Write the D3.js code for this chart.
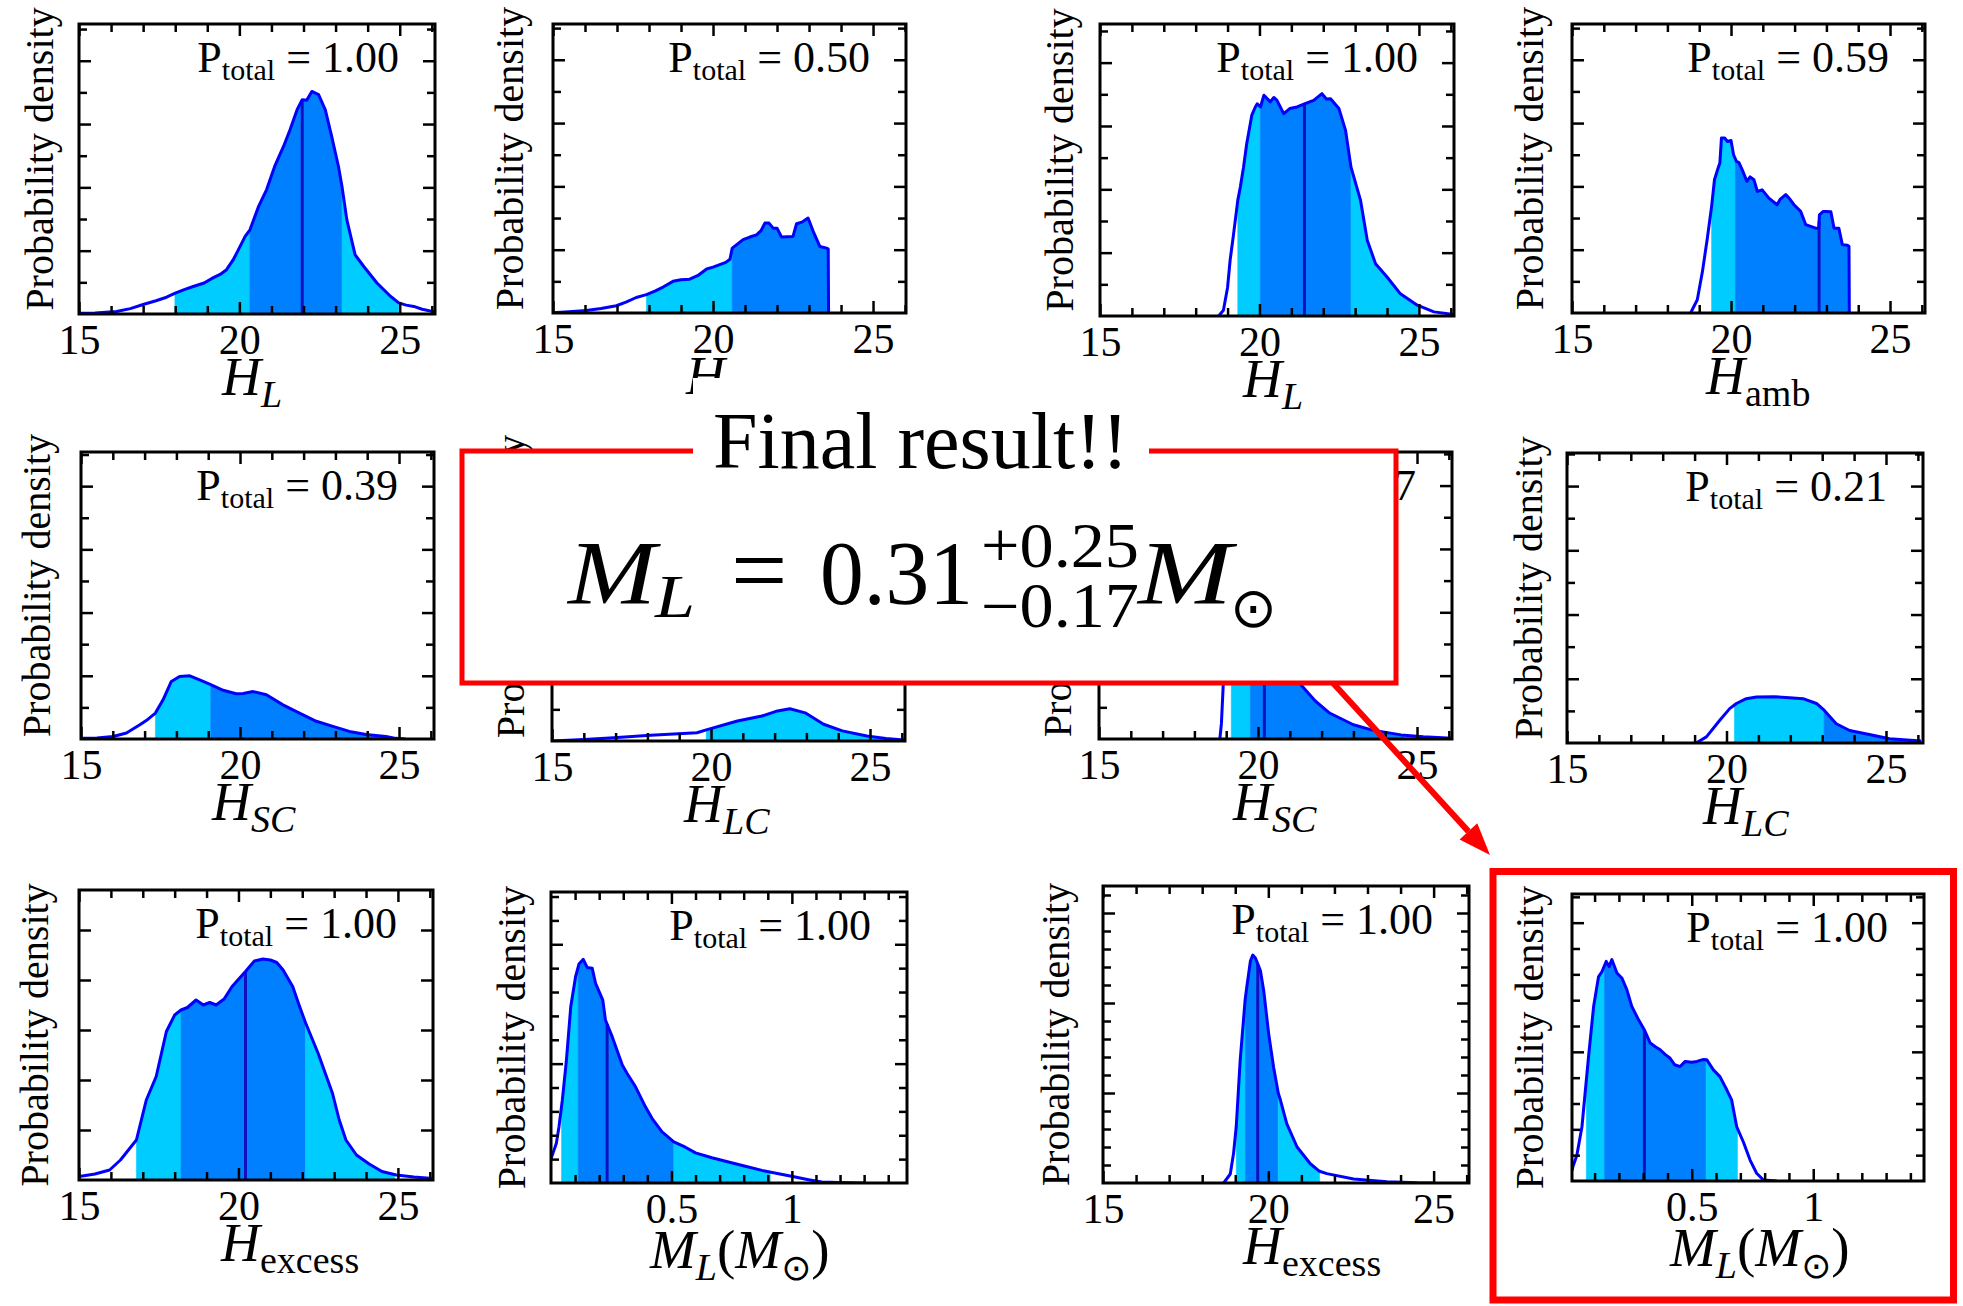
<!DOCTYPE html>
<html><head><meta charset="utf-8">
<script src="https://cdn.jsdelivr.net/npm/d3@7"></script>
<style>
html,body{margin:0;padding:0;background:#fff;}
svg{display:block;}
</style></head><body>
<svg id="c" width="1963" height="1306"></svg>
<script>
// ---------------- DATA ----------------
const xTickLabelsH = ["15","20","25"];
const xTickLabelsM = ["0.5","1"];
// P_total per panel (panel 6 value is fully hidden behind the result box in the reference)
const pTotal = ["1.00","0.50","1.00","0.59","0.39",null,"0.17","0.21","1.00","1.00","1.00","1.00"];
const axisNames = [["H","L",1],["H","amb",0],["H","L",1],["H","amb",0],["H","SC",1],["H","LC",1],["H","SC",1],["H","LC",1],["H","excess",0],["M","L",1],["H","excess",0],["M","L",1]];
const medians = [21.96, null, 21.41, 22.77, null, null, 20.2, null, 20.22, 0.233, 19.68, 0.305];

const dens_HL_A = [[15.0,0.02],[15.5,0.03],[16.17,0.08],[16.6,0.17],[17.0,0.3],[17.4,0.42],[17.73,0.53],[18.0,0.66],[18.3,0.78],[18.56,0.87],[18.9,0.98],[19.19,1.15],[19.4,1.25],[19.6,1.4],[19.8,1.7],[19.92,1.93],[20.18,2.45],[20.33,2.66],[20.6,3.4],[20.85,3.93],[21.1,4.66],[21.38,5.3],[21.58,5.82],[21.8,6.45],[21.96,6.77],[22.1,6.75],[22.26,7.03],[22.47,6.93],[22.68,6.45],[22.88,5.6],[23.09,4.66],[23.2,4.03],[23.35,2.98],[23.61,1.87],[23.88,1.5],[24.29,0.98],[24.71,0.56],[24.97,0.35],[25.2,0.28],[25.44,0.24],[25.7,0.15],[26.1,0.06]];
const dens_Hamb_A = [[15.0,0.01],[15.5,0.04],[16.04,0.08],[16.5,0.14],[16.98,0.23],[17.3,0.35],[17.6,0.49],[17.92,0.58],[18.2,0.7],[18.44,0.82],[18.75,1.0],[19.0,1.05],[19.27,1.07],[19.55,1.2],[19.8,1.39],[20.0,1.45],[20.21,1.53],[20.4,1.6],[20.53,1.7],[20.6,2.05],[20.94,2.32],[21.15,2.4],[21.36,2.47],[21.5,2.6],[21.62,2.84],[21.75,2.84],[21.88,2.68],[22.0,2.68],[22.14,2.4],[22.5,2.42],[22.61,2.82],[22.8,2.88],[22.97,3.0],[23.13,2.58],[23.34,2.1],[23.55,2.05],[23.6,2.02],[23.61,0]];
const dens_HL_B = [[18.72,0],[18.87,0.18],[19.0,0.9],[19.08,1.76],[19.19,2.6],[19.32,3.65],[19.4,4.07],[19.5,4.7],[19.6,5.44],[19.76,6.34],[19.87,6.6],[19.93,6.7],[20.03,6.6],[20.14,6.97],[20.34,6.76],[20.45,6.9],[20.55,6.81],[20.76,6.39],[20.95,6.55],[21.18,6.6],[21.41,6.7],[21.55,6.75],[21.7,6.81],[21.96,7.02],[22.1,6.85],[22.23,6.86],[22.49,6.55],[22.7,5.86],[22.87,4.7],[23.17,3.65],[23.38,2.39],[23.64,1.65],[24.0,1.23],[24.42,0.7],[24.95,0.34],[25.47,0.13],[26.1,0.05]];
const dens_Hamb_B = [[18.73,0],[18.94,0.42],[19.1,1.3],[19.25,2.32],[19.39,3.37],[19.48,4.21],[19.6,4.6],[19.65,4.74],[19.7,5.53],[19.8,5.53],[19.88,5.42],[20.0,5.45],[20.08,5.0],[20.17,4.79],[20.25,4.75],[20.35,4.53],[20.5,4.16],[20.6,4.3],[20.72,4.21],[20.83,3.84],[20.98,3.89],[21.19,3.63],[21.45,3.42],[21.55,3.6],[21.72,3.74],[21.85,3.6],[21.98,3.42],[22.19,3.21],[22.35,2.79],[22.66,2.68],[22.76,2.68],[22.78,3.1],[22.9,3.21],[22.98,3.21],[23.14,3.2],[23.24,2.68],[23.39,2.68],[23.5,2.16],[23.66,2.14],[23.71,2.1],[23.72,0]];
const dens_HSC_A = [[15.0,0.02],[15.5,0.03],[16.01,0.08],[16.43,0.19],[16.85,0.45],[17.1,0.62],[17.34,0.82],[17.58,1.24],[17.84,1.82],[18.1,1.98],[18.42,2.0],[18.73,1.87],[19.08,1.72],[19.47,1.54],[19.88,1.43],[20.1,1.44],[20.41,1.5],[20.83,1.4],[21.35,1.08],[21.87,0.82],[22.4,0.56],[22.92,0.4],[23.44,0.24],[23.96,0.14],[24.59,0.08],[24.9,0.02],[25.2,0]];
const dens_HLC_A = [[15.0,0],[16.0,0.05],[16.94,0.1],[18.1,0.18],[19.56,0.26],[19.85,0.35],[20.83,0.63],[21.6,0.79],[22.09,0.95],[22.48,1.02],[22.96,0.89],[23.54,0.53],[24.13,0.32],[24.9,0.16],[25.5,0.08],[26.07,0.03]];
const dens_HSC_B = [[18.8,0],[18.85,0.5],[18.92,2.0],[19.0,4.0],[19.15,6.0],[19.3,7.8],[19.5,8.6],[19.7,8.4],[20.0,7.2],[20.4,5.3],[20.8,3.3],[21.1,2.3],[21.3,1.77],[21.8,1.2],[22.25,0.82],[23.0,0.45],[23.6,0.28],[24.5,0.13],[25.2,0.07],[26.1,0.02]];
const dens_HLC_B = [[19.05,0],[19.37,0.19],[19.79,0.71],[20.1,1.07],[20.31,1.23],[20.62,1.38],[20.94,1.43],[21.5,1.44],[21.98,1.41],[22.4,1.38],[22.82,1.23],[23.06,1.02],[23.44,0.6],[23.86,0.39],[24.59,0.24],[25.11,0.13],[26.1,0.06]];
const dens_Hex_A = [[15.0,0.07],[15.5,0.12],[15.96,0.2],[16.3,0.4],[16.8,0.8],[17.11,1.6],[17.42,2.07],[17.74,2.97],[18.0,3.3],[18.2,3.4],[18.4,3.45],[18.67,3.6],[18.9,3.5],[19.1,3.55],[19.3,3.5],[19.55,3.62],[19.8,3.87],[20.22,4.17],[20.5,4.38],[20.77,4.42],[21.0,4.4],[21.2,4.35],[21.4,4.2],[21.7,3.87],[21.9,3.5],[22.1,3.15],[22.5,2.53],[22.95,1.73],[23.16,1.2],[23.37,0.8],[23.7,0.5],[24.1,0.32],[24.5,0.17],[24.95,0.1],[25.5,0.06],[26.1,0.03]];
const dens_ML_A = [[0,1.02],[0.022,1.65],[0.033,2.35],[0.047,3.47],[0.064,5.15],[0.082,7.38],[0.102,8.64],[0.116,9.17],[0.134,9.37],[0.15,9.03],[0.171,9.0],[0.185,8.36],[0.215,7.66],[0.226,6.83],[0.254,6.13],[0.296,4.94],[0.316,4.59],[0.351,4.03],[0.392,3.19],[0.42,2.7],[0.461,2.14],[0.51,1.72],[0.558,1.5],[0.6,1.26],[0.668,1.06],[0.737,0.88],[0.807,0.7],[0.876,0.53],[0.945,0.39],[1.014,0.25],[1.069,0.14],[1.124,0.04],[1.193,0.02],[1.3,0]];
const dens_Hex_B = [[18.65,0],[18.85,0.5],[18.95,1.66],[19.03,3.14],[19.15,6.84],[19.3,10.2],[19.35,10.9],[19.46,12.35],[19.53,12.66],[19.61,12.5],[19.76,11.8],[19.86,10.7],[20.01,8.3],[20.16,6.43],[20.3,5.0],[20.37,4.58],[20.56,3.29],[20.87,2.0],[21.27,1.07],[21.55,0.65],[21.77,0.52],[22.58,0.22],[23.59,0.07],[24.5,0.01],[25.0,0]];
const dens_ML_B = [[0.007,0.4],[0.011,0.56],[0.027,1.0],[0.048,2.1],[0.06,3.3],[0.075,4.8],[0.096,6.76],[0.116,7.9],[0.13,8.1],[0.148,8.5],[0.16,8.3],[0.171,8.57],[0.192,8.05],[0.212,7.86],[0.233,7.4],[0.253,6.76],[0.281,6.24],[0.305,5.85],[0.329,5.34],[0.35,5.2],[0.37,5.08],[0.39,4.9],[0.411,4.75],[0.43,4.5],[0.452,4.43],[0.473,4.63],[0.5,4.6],[0.521,4.63],[0.545,4.7],[0.562,4.69],[0.589,4.3],[0.616,4.04],[0.644,3.53],[0.664,3.14],[0.685,2.1],[0.712,1.52],[0.74,0.81],[0.767,0.3],[0.795,0.04],[0.85,0]];

// credible bands: [from, to, level]
const bands_HL_A = [[17.99,20.33,95],[20.33,23.2,68],[23.2,24.97,95]];
const bands_Hamb_A = [[17.92,20.6,95],[20.6,23.61,68]];
const bands_HL_B = [[19.32,20.03,95],[20.03,22.87,68],[22.87,25.0,95]];
const bands_Hamb_B = [[19.39,20.14,95],[20.14,23.72,68]];
const bands_HSC_A = [[17.34,19.08,95],[19.08,24.9,68]];
const bands_HLC_A = [[19.85,25.5,95]];
const bands_HSC_B = [[19.16,19.76,95],[19.76,24.6,68],[24.6,25.6,95]];
const bands_HLC_B = [[20.25,23.06,95],[23.06,26.1,68]];
const bands_Hex_A = [[16.8,18.2,95],[18.2,22.1,68],[22.1,24.9,95]];
const bands_ML_A = [[0.044,0.113,95],[0.113,0.51,68],[0.51,0.91,95]];
const bands_Hex_B = [[19.03,19.31,95],[19.31,20.3,68],[20.3,21.55,95]];
const bands_ML_B = [[0.066,0.141,95],[0.141,0.559,68],[0.559,0.688,95]];

// ---------------- LAYOUT ----------------
const panels = [
 {box:[79,24,435,314],    xd:[15,26.1],   ytop:9.16,  yEvery:2, dens:dens_HL_A,   bands:bands_HL_A,   ylOff:-10, ylX:-26, xlOff:143},
 {box:[553,24,906,313],   xd:[15,26.03],  ytop:9.13,  yEvery:2, dens:dens_Hamb_A, bands:bands_Hamb_A, ylOff:-10, ylX:-30, xlOff:133},
 {box:[1100,24,1454,316], xd:[15,26.1],   ytop:9.22,  yEvery:2, dens:dens_HL_B,   bands:bands_HL_B,   ylOff:-10, ylX:-27, xlOff:143},
 {box:[1572,24,1925,313], xd:[15,26.1],   ytop:9.13,  yEvery:2, dens:dens_Hamb_B, bands:bands_Hamb_B, ylOff:-10, ylX:-29, xlOff:134},
 {box:[81,452,434,739],   xd:[15,26.1],   ytop:9.08,  yEvery:2, dens:dens_HSC_A,  bands:bands_HSC_A,  ylOff:-10, ylX:-31, xlOff:131},
 {box:[552,452,905,741],  xd:[15,26.1],   ytop:9.13,  yEvery:2, dens:dens_HLC_A,  bands:bands_HLC_A,  ylOff:-10, ylX:-28, xlOff:132},
 {box:[1099,452,1452,739],xd:[15,26.1],   ytop:9.06,  yEvery:2, dens:dens_HSC_B,  bands:bands_HSC_B,  ylOff:-10, ylX:-28, xlOff:134},
 {box:[1567,453,1923,743],xd:[15,26.16],  ytop:9.03,  yEvery:2, dens:dens_HLC_B,  bands:bands_HLC_B,  ylOff:-10, ylX:-25, xlOff:136},
 {box:[79,890,433,1180],  xd:[15,26.1],   ytop:5.8,   yEvery:1, dens:dens_Hex_A,  bands:bands_Hex_A,  ylOff:0, ylX:-31, xlOff:142},
 {box:[551,892,907,1183], xd:[0,1.478],   ytop:12.19, yEvery:5, dens:dens_ML_A,   bands:bands_ML_A,   ylOff:0, ylX:-26, xlOff:99},
 {box:[1103,886,1469,1183],xd:[15,26.07], ytop:16.5,  yEvery:5, dens:dens_Hex_B,  bands:bands_Hex_B,  ylOff:0, ylX:-34, xlOff:140},
 {box:[1572,894,1924,1181],xd:[0.007,1.456],ytop:11.11,yEvery:5, dens:dens_ML_B,   bands:bands_ML_B,   ylOff:0, ylX:-29, xlOff:98}
];

const FONT = '"Liberation Serif","Times New Roman",Times,serif';
const C68 = '#0080FF', C95 = '#00CCFF', CLINE = '#0000FF', CMED = '#1010C0';
const svg = d3.select('#c');

function interpAt(data, v){
  for(let i=0;i<data.length-1;i++){
    const [x0,y0]=data[i],[x1,y1]=data[i+1];
    if(v>=x0 && v<=x1){ if(x1===x0) return y1; return y0+(y1-y0)*(v-x0)/(x1-x0); }
  }
  return 0;
}
function clipSeg(data,a,b){
  const pts=[[a,interpAt(data,a)]];
  data.forEach(d=>{ if(d[0]>a && d[0]<b) pts.push(d); });
  pts.push([b,interpAt(data,b)]);
  return pts;
}

panels.forEach((p,i)=>{
  const [L,T,R,B]=p.box;
  const isM = axisNames[i][0]==='M';
  const x=d3.scaleLinear().domain(p.xd).range([L,R]);
  const y=d3.scaleLinear().domain([0,p.ytop]).range([B,T]);
  const g=svg.append('g');
  const cid='clip'+i;
  g.append('clipPath').attr('id',cid).append('rect').attr('x',L).attr('y',T).attr('width',R-L).attr('height',B-T);
  const inner=g.append('g').attr('clip-path',`url(#${cid})`);
  const area=d3.area().x(d=>x(d[0])).y0(y(0)).y1(d=>y(d[1]));
  p.bands.forEach(([a,b,lvl])=>{
    inner.append('path').datum(clipSeg(p.dens,a,b)).attr('d',area)
      .attr('fill', lvl===68?C68:C95).attr('stroke', lvl===68?C68:C95).attr('stroke-width',0.6);
  });
  if(medians[i]!=null){
    const m=medians[i];
    inner.append('line').attr('x1',x(m)).attr('x2',x(m)).attr('y1',y(0)).attr('y2',y(interpAt(p.dens,m)))
      .attr('stroke',CMED).attr('stroke-width',3);
  }
  inner.append('path').datum(p.dens)
    .attr('d',d3.line().x(d=>x(d[0])).y(d=>y(d[1])))
    .attr('fill','none').attr('stroke',CLINE).attr('stroke-width',3).attr('stroke-linejoin','round');

  // ticks
  const xMinorAll = isM ? d3.range(1,15).map(k=>k/10) : d3.range(15,27);
  const xMajor = isM ? [0.5,1] : [15,20,25];
  const xMinor = xMinorAll.filter(v=>!xMajor.some(m=>Math.abs(m-v)<1e-9) && v<=p.xd[1]);
  const xLabs = isM ? xTickLabelsM : xTickLabelsH;
  const yAll = d3.range(1, Math.floor(p.ytop+1e-9)+1);
  const yMajor = yAll.filter(v=>v%p.yEvery===0);
  const yMinor = yAll.filter(v=>v%p.yEvery!==0);

  function ax(gen, scale, vals, size, tx, ty, fmt){
    const a=gen(scale).tickValues(vals).tickSize(size).tickSizeOuter(0).tickPadding(10)
      .tickFormat(fmt || (()=> ''));
    const gg=g.append('g').attr('transform',`translate(${tx},${ty})`).call(a);
    gg.select('.domain').remove();
    gg.selectAll('line').attr('stroke','#000').attr('stroke-width',2.5);
    gg.selectAll('text').attr('font-size',42).attr('font-family',FONT).attr('fill','#000');
    if(!fmt) gg.selectAll('text').remove();
    return gg;
  }
  ax(d3.axisBottom,x,xMajor,-12,0,B,(d,k)=>xLabs[k]);
  ax(d3.axisBottom,x,xMinor,-8,0,B);
  ax(d3.axisTop,x,xMajor,-12,0,T);
  ax(d3.axisTop,x,xMinor,-8,0,T);
  ax(d3.axisLeft,y,yMajor,-12,L,0);
  ax(d3.axisLeft,y,yMinor,-8,L,0);
  ax(d3.axisRight,y,yMajor,-12,R,0);
  ax(d3.axisRight,y,yMinor,-8,R,0);

  g.append('rect').attr('x',L).attr('y',T).attr('width',R-L).attr('height',B-T)
    .attr('fill','none').attr('stroke','#000').attr('stroke-width',3);

  // y label
  g.append('text').attr('transform',`translate(${L+p.ylX},${(T+B)/2+p.ylOff}) rotate(-90)`)
    .attr('text-anchor','middle').attr('font-family',FONT).attr('font-size',40).text('Probability density');

  // P_total
  if(pTotal[i]!=null){
    const pt=g.append('text').attr('x',R-36).attr('y',T+48).attr('text-anchor','end')
      .attr('font-family',FONT).style('white-space','pre');
    pt.append('tspan').attr('font-size',44).text('P');
    pt.append('tspan').attr('font-size',30).attr('dy',8).text('total');
    pt.append('tspan').attr('font-size',44).attr('dy',-8).text(' = '+pTotal[i]);
  }

  // x label
  const [mainSym, sub, subIt] = axisNames[i];
  const xl=g.append('text').attr('x',L+p.xlOff).attr('y',B+(isM?85:81)).attr('font-family',FONT);
  xl.append('tspan').attr('font-size',isM?55:54).attr('font-style','italic').text(mainSym);
  xl.append('tspan').attr('font-size',38).attr('font-style',subIt?'italic':'normal').attr('dy',12).text(sub);
  if(isM){
    xl.append('tspan').attr('font-size',55).attr('dy',-12).text('(');
    xl.append('tspan').attr('font-size',55).attr('font-style','italic').text('M');
    xl.append('tspan').attr('font-size',36).attr('dy',12).attr('font-family','"DejaVu Sans",sans-serif').text('\u2299');
    xl.append('tspan').attr('font-size',55).attr('dy',-12).text(')');
  }
});

// ---------------- OVERLAY ----------------
const ov=svg.append('g');
ov.append('rect').attr('x',462).attr('y',451).attr('width',934).attr('height',232)
  .attr('fill','#fff').attr('stroke','#FF0000').attr('stroke-width',5);
ov.append('rect').attr('x',693).attr('y',378).attr('width',456).attr('height',80).attr('fill','#fff');
ov.append('text').attr('x',713).attr('y',468).attr('font-family',FONT).attr('font-size',80).text('Final result!!');

const fm=ov.append('g').attr('font-family',FONT);
fm.append('text').attr('x',568).attr('y',604).attr('font-size',90).attr('font-style','italic')
  .attr('textLength',88).attr('lengthAdjust','spacingAndGlyphs').text('M');
fm.append('text').attr('x',655).attr('y',617).attr('font-size',62).attr('font-style','italic')
  .attr('textLength',40).attr('lengthAdjust','spacingAndGlyphs').text('L');
fm.append('text').attr('x',731).attr('y',604).attr('font-size',100).text('=');
fm.append('text').attr('x',820).attr('y',604).attr('font-size',90).attr('textLength',153).attr('lengthAdjust','spacingAndGlyphs').text('0.31');
fm.append('text').attr('x',981).attr('y',567).attr('font-size',63).attr('textLength',158).attr('lengthAdjust','spacingAndGlyphs').text('+0.25');
fm.append('text').attr('x',981).attr('y',627).attr('font-size',63).attr('textLength',158).attr('lengthAdjust','spacingAndGlyphs').text('\u22120.17');
fm.append('text').attr('x',1138).attr('y',604).attr('font-size',90).attr('font-style','italic')
  .attr('textLength',94).attr('lengthAdjust','spacingAndGlyphs').text('M');
fm.append('text').attr('x',1230).attr('y',627).attr('font-size',56).attr('font-family','"DejaVu Sans",sans-serif').text('\u2299');

// arrow
const ax0=1333, ay0=683, ax1=1490, ay1=855;
const len=Math.hypot(ax1-ax0,ay1-ay0), ux=(ax1-ax0)/len, uy=(ay1-ay0)/len;
const bx=ax1-32*ux, by=ay1-32*uy, nx=-uy, ny=ux;
ov.append('line').attr('x1',ax0).attr('y1',ay0).attr('x2',bx).attr('y2',by).attr('stroke','#FF0000').attr('stroke-width',6);
ov.append('path').attr('d',`M${ax1},${ay1}L${bx+12*nx},${by+12*ny}L${bx-12*nx},${by-12*ny}Z`).attr('fill','#FF0000');

// frame around final panel
ov.append('rect').attr('x',1493).attr('y',871.5).attr('width',460.5).attr('height',428.5)
  .attr('fill','none').attr('stroke','#FF0000').attr('stroke-width',7);
</script>
</body></html>
